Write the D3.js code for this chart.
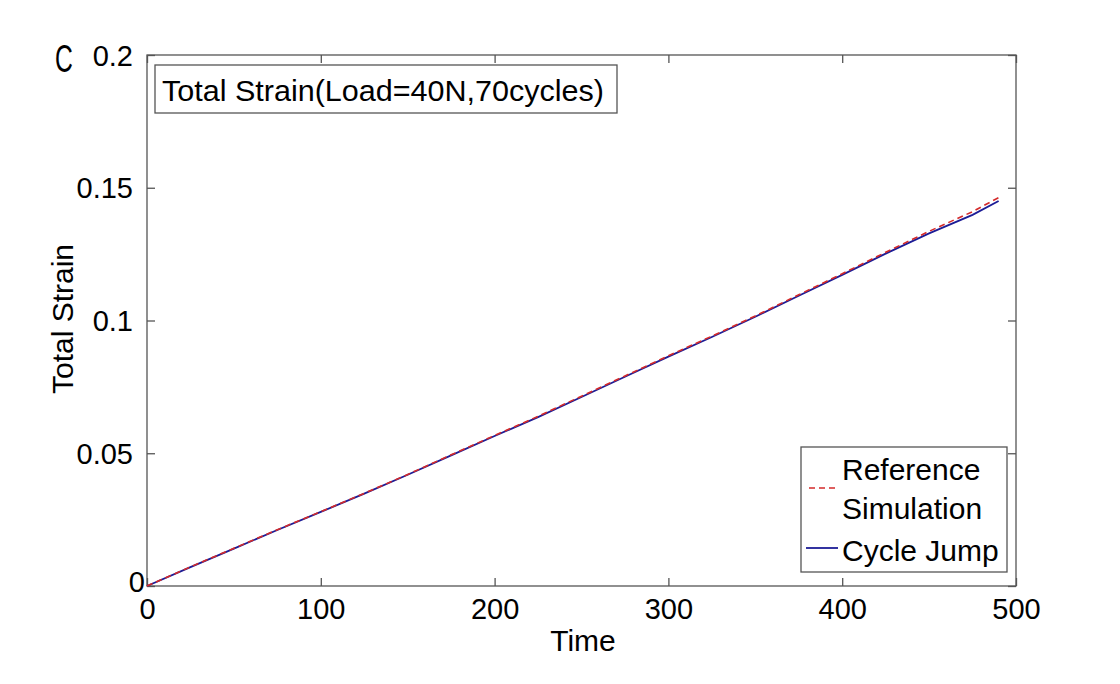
<!DOCTYPE html>
<html>
<head>
<meta charset="utf-8">
<script src="https://cdn.jsdelivr.net/npm/d3@7"></script>
<style>
  html, body { margin: 0; padding: 0; background: #fff; }
  text { font-family: Arial, "Liberation Sans", sans-serif; fill: #000; }
</style>
</head>
<body>
<svg id="chart" width="1120" height="684"></svg>
<script>
// ---- data ----
const time = [0, 25, 50, 75, 100, 125, 150, 175, 200, 225, 250, 275, 300, 325, 350, 375, 400, 425, 450, 475, 490];
const referenceSimulation = [0, 0.0072, 0.0142, 0.0212, 0.0280, 0.0349, 0.0420, 0.0494, 0.0567, 0.0639, 0.0715, 0.0791, 0.0867, 0.0941, 0.1017, 0.1097, 0.1176, 0.1257, 0.1336, 0.1410, 0.1463];
const cycleJump = [0, 0.0071, 0.0141, 0.0211, 0.0279, 0.0348, 0.0419, 0.0492, 0.0565, 0.0636, 0.0712, 0.0788, 0.0864, 0.0938, 0.1014, 0.1093, 0.1172, 0.1252, 0.1328, 0.1398, 0.1450];
const xTicks = [0, 100, 200, 300, 400, 500];
const yTicks = [0, 0.05, 0.1, 0.15, 0.2];
const yTickLabels = ["0", "0.05", "0.1", "0.15", "0.2"];
const seriesNames = ["Reference", "Simulation", "Cycle Jump"];
const titleText = "Total Strain(Load=40N,70cycles)";

// ---- layout ----
const svg = d3.select("#chart");
const L = 147, R = 1016, T = 55, B = 586;
const x = d3.scaleLinear().domain([0, 500]).range([L, R]);
const y = d3.scaleLinear().domain([0, 0.2]).range([B, T]);
const axisColor = "#555";
const fsTick = 29;
const fs = 30;

// frame
svg.append("rect").attr("x", L).attr("y", T).attr("width", R - L).attr("height", B - T)
  .attr("fill", "none").attr("stroke", axisColor).attr("stroke-width", 1.3);

// ticks (inward, all four sides)
const tl = 8;
const bottomAxis = d3.axisBottom(x).tickValues(xTicks).tickSize(-tl).tickFormat(d3.format("d")).tickPadding(11);
const gB = svg.append("g").attr("transform", `translate(0,${B})`).call(bottomAxis);
const topAxis = d3.axisTop(x).tickValues(xTicks).tickSize(-tl).tickFormat("");
const gT = svg.append("g").attr("transform", `translate(0,${T})`).call(topAxis);
const leftAxis = d3.axisLeft(y).tickValues(yTicks).tickSize(-tl).tickFormat((d, i) => yTickLabels[i]).tickPadding(14);
const gL = svg.append("g").attr("transform", `translate(${L},0)`).call(leftAxis);
const rightAxis = d3.axisRight(y).tickValues(yTicks).tickSize(-tl).tickFormat("");
const gR = svg.append("g").attr("transform", `translate(${R},0)`).call(rightAxis);
[gB, gT, gL, gR].forEach(g => {
  g.select(".domain").remove();
  g.selectAll(".tick line").attr("stroke", axisColor).attr("stroke-width", 1.3);
  g.selectAll(".tick text").attr("font-size", fsTick).attr("font-family", "Arial, 'Liberation Sans', sans-serif").attr("fill", "#000");
});
gB.selectAll(".tick text").attr("dy", "0.75em");
gL.selectAll(".tick text").attr("dy", "0.35em");
gL.selectAll(".tick").filter(d => d === 0).select("text").attr("dy", "0.2em").attr("x", -2);

// lines
const line = (vals) => d3.line().x((d, i) => x(time[i])).y(d => y(d))(vals);
svg.append("path").attr("d", line(cycleJump)).attr("fill", "none")
  .attr("stroke", "#1c1c96").attr("stroke-width", 1.8);
svg.append("path").attr("d", line(referenceSimulation)).attr("fill", "none")
  .attr("stroke", "#d42a2a").attr("stroke-width", 1.6).attr("stroke-dasharray", "6,4");

// title box
svg.append("rect").attr("x", 155).attr("y", 65).attr("width", 462).attr("height", 48)
  .attr("fill", "#fff").attr("stroke", axisColor).attr("stroke-width", 1.3);
svg.append("text").attr("x", 162).attr("y", 101).attr("font-size", fs).attr("textLength", 442)
  .attr("lengthAdjust", "spacingAndGlyphs").text(titleText);

// legend
svg.append("rect").attr("x", 801).attr("y", 447).attr("width", 206).attr("height", 125)
  .attr("fill", "#fff").attr("stroke", axisColor).attr("stroke-width", 1.3);
svg.append("line").attr("x1", 809).attr("x2", 838).attr("y1", 488).attr("y2", 488)
  .attr("stroke", "#d42a2a").attr("stroke-width", 1.6).attr("stroke-dasharray", "6,4");
svg.append("line").attr("x1", 806).attr("x2", 838).attr("y1", 548).attr("y2", 548)
  .attr("stroke", "#1c1c96").attr("stroke-width", 1.8);
svg.append("text").attr("x", 842).attr("y", 480).attr("font-size", fs).text(seriesNames[0]);
svg.append("text").attr("x", 842).attr("y", 519).attr("font-size", fs).text(seriesNames[1]);
svg.append("text").attr("x", 842).attr("y", 561).attr("font-size", fs).text(seriesNames[2]);

// axis titles
svg.append("text").attr("x", 583).attr("y", 651).attr("text-anchor", "middle").attr("font-size", fs).text("Time");
svg.append("text").attr("transform", `translate(73,319) rotate(-90)`).attr("text-anchor", "middle")
  .attr("font-size", fs).text("Total Strain");

// panel label
svg.append("text").attr("transform", "translate(55,72) scale(0.65,1)")
  .attr("font-family", "'Liberation Serif', 'DejaVu Serif', serif").attr("font-size", 38).text("C");
</script>
</body>
</html>
